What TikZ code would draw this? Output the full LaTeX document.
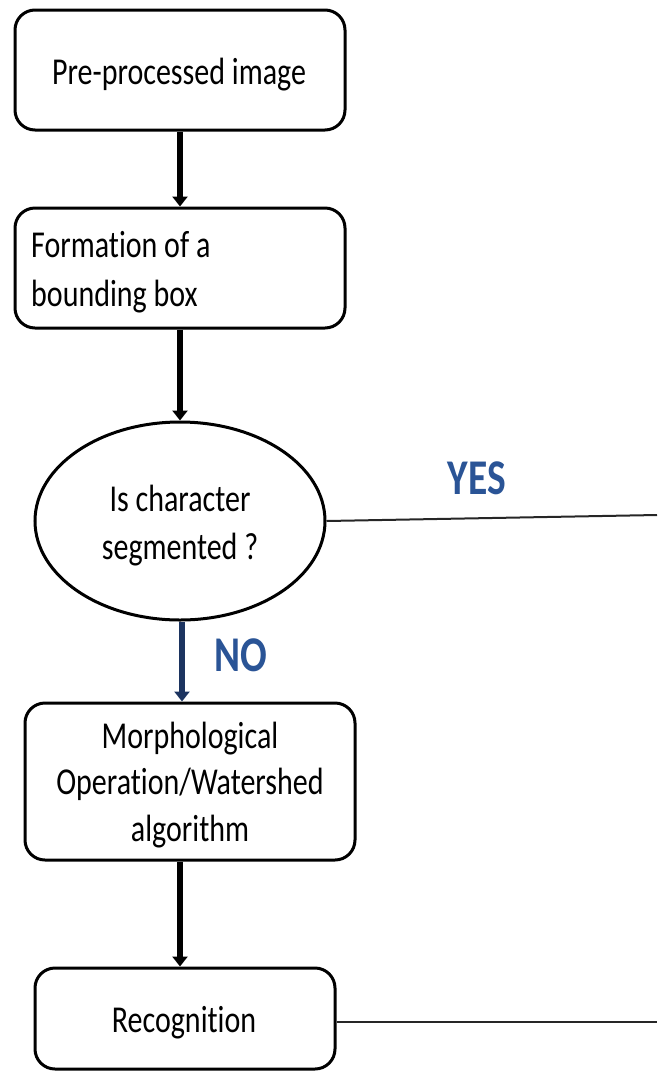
\documentclass[tikz,border=0pt]{standalone}
\usepackage{fontspec}
\setmainfont[FakeStretch=0.79,Ligatures={NoCommon,NoContextual}]{Carlito}
\usetikzlibrary{arrows.meta,shapes.geometric}
\definecolor{lblblue}{RGB}{42,84,150}
\definecolor{navy}{RGB}{28,52,96}
\begin{document}
\begin{tikzpicture}[x=1pt,y=-1pt,
  stepbox/.style={draw,line width=3pt,rounded corners=20pt},
  decision/.style={draw,ellipse,line width=3pt,inner sep=0pt},
  boxtext/.style={inner sep=0pt,align=center,font=\fontsize{38}{46.5}\selectfont},
  flow/.style={line width=5.5pt,-{Triangle[width=15pt,length=10pt]}},
  plain/.style={line width=2pt,draw=black!85},
  answer/.style={text=lblblue,font=\bfseries\fontsize{50}{50}\selectfont}]
\useasboundingbox (0,0) rectangle (657,1072);

% process steps (outlines)
\node[stepbox,minimum width=330pt,minimum height=120pt] (pre) at (180,70) {};
\node[stepbox,minimum width=330pt,minimum height=120pt] (bbox) at (180,268) {};
\node[decision,minimum width=290pt,minimum height=198pt] (seg) at (180,521) {};
\node[stepbox,minimum width=330pt,minimum height=157pt] (morph) at (190,781.5) {};
\node[stepbox,minimum width=300pt,minimum height=101pt] (rec) at (185,1018.5) {};

% step texts
\node[boxtext] (pretxt) at (179,75) {Pre-processed image};
\node[boxtext,align=flush left,anchor=west,font=\fontsize{38}{49}\selectfont] (bboxtxt) at (31,272)
      {Formation of a\\bounding box};
\node[boxtext,font=\fontsize{38}{48}\selectfont] (segtxt) at (180,526) {Is character\\segmented ?};
\node[boxtext] (morphtxt) at (190,785) {Morphological\\Operation/Watershed\\algorithm};
\node[boxtext] (rectxt) at (184,1023) {Recognition};

% free ends of the outgoing lines
\coordinate (yesend) at (657,515);
\coordinate (recend) at (657,1022);

% connectors
\draw[flow] (pre.south) -- (bbox.north);
\draw[flow] (bbox.south) -- (seg.north);
\draw[flow,draw=navy,fill=navy] (seg.south) ++(2,0) coordinate (nostart) -- (nostart |- morph.north);
\draw[flow] (morph.south -| rec.north) ++(-5,0) coordinate (mstart) -- (mstart |- rec.north);
\draw[plain] (seg.east) -- (yesend);
\draw[plain] (rec.east |- recend) -- (recend);

% branch labels
\node[answer] (yes) at (477,478) {YES};
\node[answer] (no) at (241,655) {NO};
\end{tikzpicture}
\end{document}
